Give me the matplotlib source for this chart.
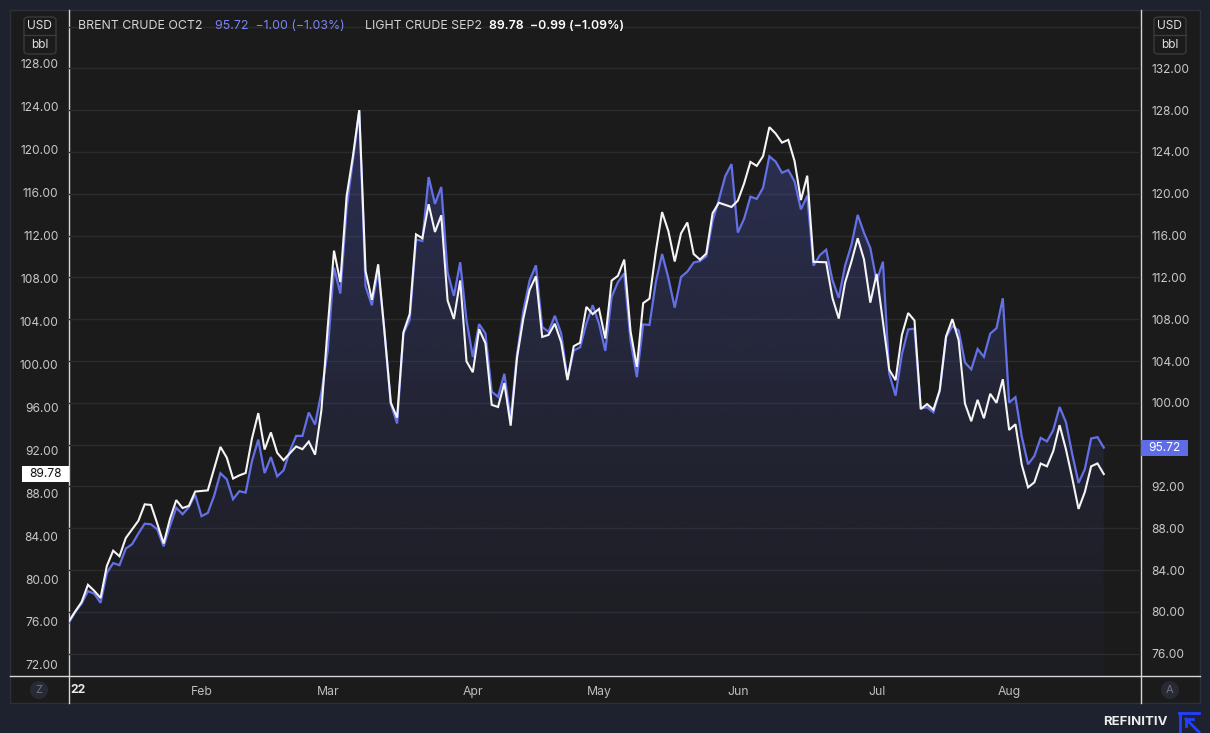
import numpy as np
import pandas as pd
import matplotlib
matplotlib.use("Agg")
import matplotlib.pyplot as plt
from matplotlib.patches import Rectangle, FancyBboxPatch, Circle
from matplotlib.lines import Line2D
from matplotlib.colors import to_rgb
import matplotlib.transforms as mtransforms

plt.rcParams['font.family'] = ['Inter', 'DejaVu Sans']

# ---------------- data ----------------
dates = pd.bdate_range("2022-01-03", "2022-08-22")
dates = dates[dates != pd.Timestamp("2022-04-15")]  # Good Friday, no trading

brent_jan = [78.98, 80.00, 80.80, 81.99, 81.75, 80.87, 83.72, 84.67, 84.47, 86.06, 86.48,
             87.51, 88.44, 88.38, 87.89, 86.27, 88.20, 89.96, 89.34, 90.03, 91.21]
brent_feb = [89.16, 89.47, 91.11, 93.27, 92.69, 90.78, 91.55, 91.41, 94.44, 96.48, 93.28,
             94.81, 92.97, 93.54, 95.39, 96.84, 96.84, 99.08, 97.93, 100.99]
brent_mar = [104.97, 112.93, 110.46, 118.60, 123.21, 127.98, 111.14, 109.33, 112.67, 106.90,
             99.91, 98.02, 106.64, 107.93, 115.62, 115.48, 121.60, 119.03, 120.65, 112.48,
             110.23, 113.45, 107.91]
brent_apr = [104.39, 107.53, 106.64, 101.07, 100.58, 102.78, 98.48, 104.64, 108.78, 111.70,
             113.16, 107.25, 106.80, 108.33, 106.65, 102.32, 104.99, 105.32, 107.59, 109.34]
brent_may = [107.58, 104.97, 110.14, 111.55, 112.39, 105.94, 102.46, 107.51, 107.45, 111.55,
             114.24, 111.93, 109.11, 112.04, 112.55, 113.42, 113.56, 114.03, 117.40, 119.43,
             121.67, 122.84]
brent_jun = [116.29, 117.61, 119.72, 119.51, 120.57, 123.58, 123.07, 122.01, 122.27, 121.17,
             118.51, 119.81, 113.12, 114.13, 114.65, 111.74, 110.05, 113.12, 115.09, 117.98,
             116.26, 114.81]
brent_jul = [111.63, 113.50, 102.77, 100.69, 104.65, 107.02, 107.10, 99.49, 99.57, 99.10,
             101.16, 106.27, 107.35, 106.92, 103.86, 103.20, 105.15, 104.40, 106.62, 107.14,
             110.01]
brent_aug = [100.03, 100.54, 96.78, 94.12, 94.92, 96.65, 96.31, 97.40, 99.60, 98.15, 95.10,
             92.34, 93.65, 96.59, 96.72, 95.72]

N = None  # US holiday: no WTI settlement
wti_jan = [76.08, 76.99, 77.85, 79.46, 78.90, 78.23, 81.22, 82.64, 82.12, 83.82, N,
           85.43, 86.96, 86.90, 85.14, 83.31, 85.60, 87.35, 86.61, 86.82, 88.15]
wti_feb = [88.20, 88.26, 90.27, 92.31, 91.32, 89.36, 89.66, 89.88, 93.10, 95.46, 92.07,
           93.66, 91.76, 91.07, N, 92.35, 92.10, 92.81, 91.59, 95.72]
wti_mar = [103.41, 110.60, 107.67, 115.68, 119.40, 123.70, 108.70, 106.02, 109.33, 103.01,
           96.44, 95.04, 102.98, 104.70, 112.12, 111.76, 114.93, 112.34, 113.90, 105.96,
           104.24, 107.82, 100.28]
wti_apr = [99.27, 103.28, 101.96, 96.23, 96.03, 98.26, 94.29, 100.60, 104.25, 106.95,
           108.21, 102.56, 102.75, 103.79, 102.07, 98.54, 101.70, 102.02, 105.36, 104.69]
wti_may = [105.17, 102.41, 107.81, 108.26, 109.77, 103.09, 99.76, 105.71, 106.13, 110.49,
           114.20, 112.40, 109.59, 112.21, 113.23, 110.29, 109.77, 110.33, 114.09, 115.07,
           N, 114.67]
wti_jun = [115.26, 116.87, 118.87, 118.50, 119.41, 122.11, 121.51, 120.67, 120.93, 118.93,
           115.31, 117.59, 109.56, N, 109.52, 106.19, 104.27, 107.62, 109.57, 111.76,
           109.78, 105.76]
wti_jul = [108.43, N, 99.50, 98.53, 102.73, 104.79, 104.09, 95.84, 96.30, 95.78, 97.59,
           102.60, 104.22, 102.26, 96.35, 94.70, 96.70, 94.98, 97.26, 96.42, 98.62]
wti_aug = [93.89, 94.42, 90.66, 88.54, 89.01, 90.76, 90.50, 91.93, 94.34, 92.09, 89.41,
           86.53, 88.11, 90.50, 90.77, 89.78]

brent = brent_jan + brent_feb + brent_mar + brent_apr + brent_may + brent_jun + brent_jul + brent_aug
wti = wti_jan + wti_feb + wti_mar + wti_apr + wti_may + wti_jun + wti_jul + wti_aug

left_ticks = [72, 76, 80, 84, 88, 92, 96, 100, 104, 108, 112, 116, 120, 124, 128]
right_ticks = [76, 80, 84, 88, 92, 96, 100, 104, 108, 112, 116, 120, 124, 128, 132, 136]
month_labels = ["Feb", "Mar", "Apr", "May", "Jun", "Jul", "Aug"]

brent_name = "BRENT CRUDE OCT2"
brent_chg = "95.72  \u22121.00 (\u22121.03%)"
wti_name = "LIGHT CRUDE SEP2"
wti_chg = "89.78  \u22120.99 (\u22121.09%)"

# ---------------- styling ----------------
OUTER = "#1e222e"
PANEL = "#1b1b1c"
GRID = "#2b2b2d"
AXLINE = "#d6d6d6"
TICK = "#c8c8c8"
BLUE = "#6470e6"
WHITE = "#f5f5f5"

W, H = 1210, 733
fig = plt.figure(figsize=(W / 100, H / 100), dpi=100, facecolor=OUTER)


def fx(px):
    return px / W


def fy(py):
    return 1 - py / H


fig.patches.append(Rectangle((fx(10), fy(703)), fx(1200) - fx(10), fy(10) - fy(703),
                             transform=fig.transFigure, facecolor=PANEL,
                             edgecolor="#2c303b", lw=1, zorder=0))

ax = fig.add_axes([fx(69), fy(676), fx(1141) - fx(69), fy(10) - fy(676)])
ax2 = ax.twinx()
ax.set_zorder(3)
ax2.set_zorder(2)
ax.patch.set_visible(False)
ax2.patch.set_facecolor(PANEL)

x = np.arange(len(dates))
brent_arr = np.array(brent, dtype=float)
wti_s = pd.Series(wti, dtype=float)
mask = wti_s.notna().values

L_LIM = (70.96, 133.03)
R_LIM = (73.87, 137.58)
X_LIM = (0, 169.9)

# gradient fill below Brent
poly = ax2.fill_between(x, brent_arr, R_LIM[0], facecolor="none", edgecolor="none")
grad = np.linspace(0, 1, 256)
rgba = np.zeros((256, 1, 4))
rgba[..., :3] = to_rgb("#5864dc")
rgba[:, 0, 3] = 0.03 + 0.26 * grad ** 1.2
im = ax2.imshow(rgba, extent=(0, x[-1], R_LIM[0], brent_arr.max()), origin="lower",
                aspect="auto", zorder=1, interpolation="bilinear")
im.set_clip_path(poly.get_paths()[0], transform=ax2.transData)

ax2.plot(x, brent_arr, color=BLUE, lw=1.6, zorder=3, solid_joinstyle="miter")
ax.plot(x[mask], wti_s.values[mask], color=WHITE, lw=1.5, zorder=4, solid_joinstyle="miter")

ax.set_xlim(*X_LIM)
ax.set_ylim(*L_LIM)
ax2.set_ylim(*R_LIM)

last_w = wti_s.values[mask][-1]
last_b = brent_arr[-1]

month_idx = [int(np.argmax(dates.month == m)) for m in range(2, 9)]
ax.set_xticks(month_idx)
ax.set_xticklabels(month_labels)
ax.tick_params(axis="x", length=0, pad=7, colors="#bdbdbd", labelsize=8.8)

ax.set_yticks(left_ticks)
ax.set_yticklabels([f"{v:.2f}" if abs(v - last_w) > 1.5 else "" for v in left_ticks])
ax.tick_params(axis="y", length=0, pad=7.5, colors=TICK, labelsize=8.6)

ax2.set_yticks(right_ticks)
ax2.set_yticklabels([f"{v:.2f}" if (v <= 132 and abs(v - last_b) > 1.5) else ""
                     for v in right_ticks])
ax2.tick_params(axis="y", length=0, pad=7.5, colors=TICK, labelsize=8.6)

ax2.grid(True, color=GRID, lw=1)
ax2.set_axisbelow(True)
ax.grid(False)
for a in (ax, ax2):
    for s in a.spines.values():
        s.set_visible(False)

# axis frame lines extending into the label strips
fig.add_artist(Line2D([fx(69), fx(69)], [fy(10), fy(703)], color=AXLINE, lw=1, transform=fig.transFigure))
fig.add_artist(Line2D([fx(1141), fx(1141)], [fy(10), fy(703)], color=AXLINE, lw=1, transform=fig.transFigure))
fig.add_artist(Line2D([fx(10), fx(1200)], [fy(676), fy(676)], color=AXLINE, lw=1, transform=fig.transFigure))

# year label
fig.text(fx(70), fy(690), "22", ha="left", va="center", color="#e8e8e8", fontsize=8.8, weight="bold")

# last value labels
tl = mtransforms.blended_transform_factory(ax.transAxes, ax.transData)
tr = mtransforms.blended_transform_factory(ax2.transAxes, ax2.transData)
axw = 1141 - 69
lh = 16 / 10.73
rh = 16 / 10.455
ax.add_patch(Rectangle((-47 / axw, last_w - lh / 2), 47 / axw, lh, transform=tl,
                       facecolor="#ffffff", edgecolor="none", clip_on=False, zorder=10))
ax.text(-23.5 / axw, last_w, f"{last_w:.2f}", transform=tl, ha="center", va="center",
        color="#111111", fontsize=8.6, clip_on=False, zorder=11)
ax2.add_patch(Rectangle((1.0, last_b - rh / 2), 47 / axw, rh, transform=tr,
                        facecolor="#5e6ce8", edgecolor="none", clip_on=False, zorder=10))
ax2.text(1.0 + 23.5 / axw, last_b, f"{last_b:.2f}", transform=tr, ha="center", va="center",
         color="#ffffff", fontsize=8.6, clip_on=False, zorder=11)

# unit boxes
for x0 in (24, 1154):
    fig.patches.append(FancyBboxPatch((fx(x0), fy(54)), fx(32), fy(0) - fy(37),
                                      boxstyle="round,pad=0,rounding_size=0.004",
                                      transform=fig.transFigure, facecolor=PANEL,
                                      edgecolor="#3d3d40", lw=0.9, zorder=5))
    fig.add_artist(Line2D([fx(x0), fx(x0 + 32)], [fy(35), fy(35)], color="#3d3d40", lw=0.9,
                          transform=fig.transFigure, zorder=6))
    fig.text(fx(x0 + 16), fy(26), "USD", ha="center", va="center", color="#e0e0e0", fontsize=8.6, zorder=7)
    fig.text(fx(x0 + 16), fy(44.5), "bbl", ha="center", va="center", color="#e0e0e0", fontsize=8.6, zorder=7)

# header legend
fig.text(fx(78), fy(26), brent_name, ha="left", va="center", color="#d4d4d4", fontsize=8.9)
fig.text(fx(215), fy(26), brent_chg, ha="left", va="center", color="#7b86f2", fontsize=8.9)
fig.text(fx(365), fy(26), wti_name, ha="left", va="center", color="#d4d4d4", fontsize=8.9)
fig.text(fx(489), fy(26), wti_chg, ha="left", va="center", color="#ffffff", fontsize=8.9, weight="semibold")

# small circular buttons
for cx, lab in ((39, "Z"), (1170, "A")):
    fig.patches.append(Circle((cx, H - 690), 9, transform=None, facecolor="#272a33",
                              edgecolor="none", zorder=5))
    fig.text(fx(cx), fy(690), lab, ha="center", va="center", color="#707380", fontsize=8, zorder=6)

# Refinitiv logo
fig.text(fx(1168), fy(722), "REFINITIV", ha="right", va="center", color="#ececec",
         fontsize=9.5, weight="bold")
LOGO = "#2440ff"
for xs_, ys_ in (([1179, 1199], [713, 713]), ([1180, 1180], [713, 733]),
                 ([1186, 1199], [719, 732]), ([1186, 1186], [719, 726]), ([1186, 1193], [719, 719])):
    fig.add_artist(Line2D([fx(v) for v in xs_], [fy(v) for v in ys_], color=LOGO, lw=2,
                          transform=fig.transFigure))

fig.savefig("out.png", dpi=100, facecolor=OUTER)
